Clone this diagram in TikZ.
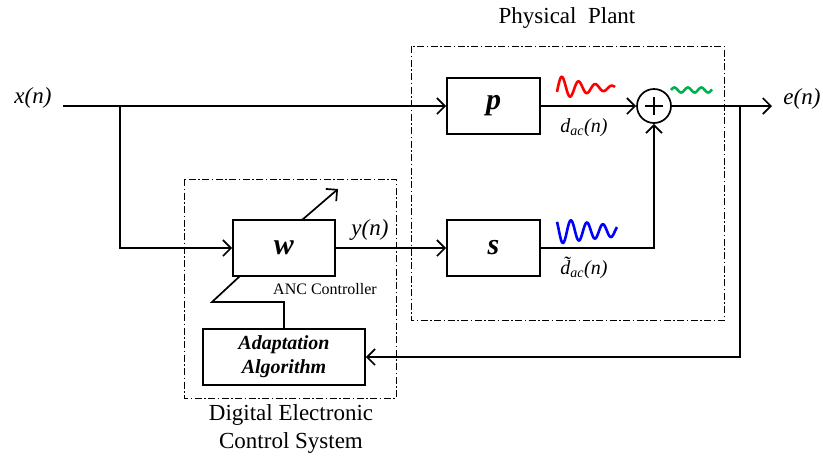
\documentclass[tikz,border=0pt]{standalone}
\usepackage{fontspec}
\setmainfont{Liberation Serif}
\usetikzlibrary{arrows.meta,calc}
\tikzset{
  blk/.style={draw, line width=1.7pt, minimum height=56pt, inner sep=0pt},
  sig/.style={line width=1.7pt},
  arr/.style={sig, -{Straight Barb[length=8pt,width=16pt,line width=1.7pt]}},
  frame/.style={line width=0.9pt, dash pattern=on 7pt off 2.5pt on 1.5pt off 2.5pt},
  lbl/.style={font=\fontsize{23}{27}\selectfont\itshape, inner sep=0pt},
  captxt/.style={font=\fontsize{23}{28}\selectfont, align=center, inner sep=0pt},
  blkfont/.style={font=\fontsize{30}{30}\selectfont\bfseries\itshape},
  wave/.style={line width=2.6pt, smooth, samples=150}
}
\definecolor{wgreen}{RGB}{0,176,80}
\definecolor{wblue}{RGB}{0,0,255}
\definecolor{wred}{RGB}{255,0,0}
\begin{document}
\begin{tikzpicture}[x=1pt,y=-1pt]
\useasboundingbox (0,0) rectangle (823,459);
% frames
\draw[frame] (411,46) rectangle (724,320);
\draw[frame] (184,179) rectangle (396,398);
\node[captxt] (plant) at (567,18) {Physical~~Plant};
\node[captxt] (dig) at (291,429) {Digital Electronic\\Control System};
% blocks
\node[blk, blkfont, minimum width=93pt] (p) at (493.5,106) {p};
\node[blk, blkfont, minimum width=93pt] (s) at (493.5,248) {s};
\node[blk, blkfont, minimum width=102pt] (w) at (284,248) {w};
\node[blk, minimum width=162pt, align=center, font=\fontsize{20}{24}\selectfont\bfseries\itshape] (ad) at (284,357) {Adaptation\\Algorithm};
\node[draw, circle, line width=1.7pt, minimum size=34pt, inner sep=0pt] (sum) at (654,106) {};
\draw[line width=1.7pt] ($(sum.center)+(-9,0)$) -- ($(sum.center)+(9,0)$);
\draw[line width=1.7pt] ($(sum.center)+(0,-9)$) -- ($(sum.center)+(0,9)$);
% labels
\node[lbl] (xl) at (33,98) {x(n)};
\node[lbl] (el) at (802,99) {e(n)};
\node[lbl] (yl) at (370,230) {y(n)};
\node[font=\fontsize{16}{18}\selectfont, inner sep=0pt] (anc) at (325,289) {ANC Controller};
\node[font=\fontsize{20}{22}\selectfont\itshape, inner sep=0pt] (dl) at (584,128) {d\textsubscript{ac}(n)};
\node[font=\fontsize{20}{22}\selectfont\itshape, inner sep=0pt] (dtl) at (584,268) {\~{d}\textsubscript{ac}(n)};
% coordinates
\coordinate (xin) at (63,106);
\coordinate (br) at (120,106);
\coordinate (eout) at (772,106);
\coordinate (fb) at (740,106);
\coordinate (k1) at (284,302);
\coordinate (k2) at (212,302);
\coordinate (k3) at (240,276);
\coordinate (d1) at (302,220);
\coordinate (d2) at (338,189);
% connectors
\draw[arr] (xin) -- (p.west);
\draw[arr] (br) |- (w.west);
\draw[arr] (w.east) -- (s.west);
\draw[arr] (p.east) -- (sum.west);
\draw[arr] (s.east) -| (sum.south);
\draw[arr] (sum.east) -- (eout);
\draw[arr] (fb) |- (ad.east);
\draw[sig] (ad.north) -- (k1) -- (k2) -- (k3);
\draw[arr] (d1) -- (d2);
% waves
\draw[wave, wred] plot[domain=0:58] ({557+\x},{88-13*exp(-\x/32)*sin((\x-0.8)/16.7*360)});
\draw[wave, wblue] plot[domain=0:60] ({557+\x},{231-13*exp(-\x/70)*sin((\x-10)/16*360)});
\draw[wave, wgreen] plot[domain=0:41] ({671+\x},{90-2.5*sin(\x/13.5*360)});
\end{tikzpicture}
\end{document}
